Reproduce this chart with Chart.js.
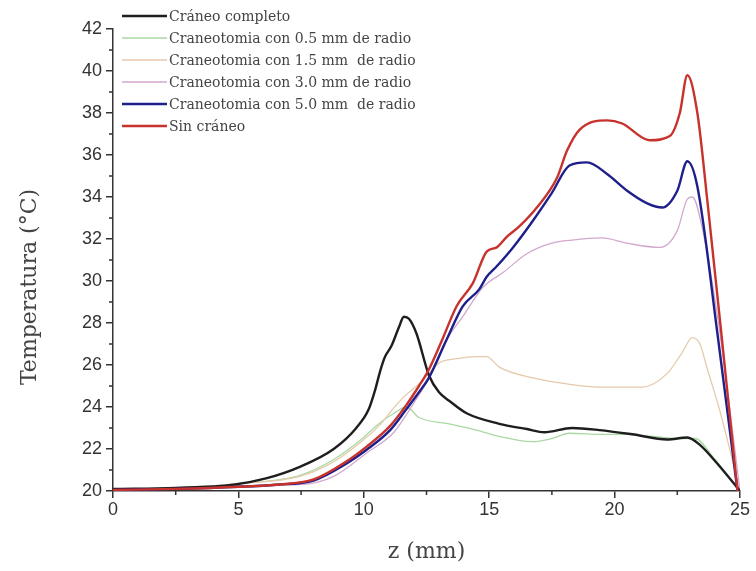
<!DOCTYPE html>
<html>
<head>
<meta charset="utf-8">
<script src="https://cdn.jsdelivr.net/npm/chart.js@4"></script>
<style>
  html, body { margin: 0; padding: 0; background: #fff; }
  canvas { display: block; }
</style>
</head>
<body>
<canvas id="tempChart" width="756" height="571"></canvas>
<script>
// series labels (legend order)
const seriesNames = [
  "Cráneo completo",
  "Craneotomia con 0.5 mm de radio",
  "Craneotomia con 1.5 mm  de radio",
  "Craneotomia con 3.0 mm de radio",
  "Craneotomia con 5.0 mm  de radio",
  "Sin cráneo"
];

// z (mm) / temperatura (°C)
const zCompleto = [0, 2.5, 4.8, 6.1, 7.45, 8.8, 9.7, 10.2, 10.45, 10.65, 10.85, 11.1, 11.4, 11.6, 11.8, 12.1, 12.6, 13.0, 13.4, 14.1, 15.4, 16.5, 17.2, 18.3, 19.4, 20.7, 22.1, 22.9, 23.4, 24.1, 25];
const tCompleto = [20.1, 20.15, 20.3, 20.6, 21.15, 22.0, 23.0, 23.9, 24.8, 25.7, 26.4, 26.9, 27.8, 28.3, 28.2, 27.5, 25.5, 24.7, 24.3, 23.7, 23.2, 22.95, 22.8, 23.0, 22.9, 22.7, 22.45, 22.55, 22.2, 21.3, 20.0];

const zR05 = [0, 2.5, 5, 7.45, 8.8, 9.85, 10.6, 11.2, 11.7, 12.2, 13.4, 14.5, 15.4, 16.7, 17.5, 18.2, 19.5, 20.5, 21.5, 22.5, 23.2, 24, 25];
const tR05 = [20.1, 20.15, 20.35, 20.75, 21.5, 22.4, 23.2, 23.7, 24.0, 23.5, 23.2, 22.9, 22.6, 22.35, 22.5, 22.75, 22.7, 22.7, 22.6, 22.5, 22.5, 21.5, 20.0];

const zR15 = [0, 2.5, 5, 7.45, 8.8, 9.85, 10.6, 11.3, 11.7, 12.2, 12.6, 13.0, 13.7, 14.5, 14.9, 15.4, 16.7, 18.1, 19.4, 21.1, 22.1, 22.7, 23.1, 23.4, 23.7, 24.2, 25];
const tR15 = [20.1, 20.15, 20.35, 20.7, 21.4, 22.3, 23.1, 24.1, 24.6, 25.1, 25.6, 26.1, 26.3, 26.4, 26.4, 25.9, 25.4, 25.1, 24.95, 24.95, 25.6, 26.6, 27.3, 27.0, 25.8, 23.8, 20.0];

const zR30 = [0, 2.5, 5, 7.45, 8.8, 10.1, 11.2, 12, 12.6, 13.2, 14.0, 14.75, 15.55, 16.5, 17.5, 18.3, 19.5, 20.5, 21.8, 22.5, 22.9, 23.1, 23.5, 24.2, 25];
const tR30 = [20.05, 20.1, 20.25, 20.3, 20.7, 21.8, 22.8, 24.2, 25.4, 27.0, 28.4, 29.7, 30.4, 31.3, 31.8, 31.95, 32.05, 31.8, 31.6, 32.4, 33.9, 34.0, 32.5, 27.5, 20.0];

const zR50 = [0, 2.5, 5, 6.5, 8.0, 9.3, 10.1, 11.05, 11.7, 12.2, 12.6, 13.3, 13.95, 14.6, 14.9, 15.3, 15.95, 16.7, 17.5, 18.2, 18.9, 19.7, 20.5, 21.3, 21.9, 22.5, 22.9, 23.3, 24.1, 24.9];
const tR50 = [20.05, 20.1, 20.2, 20.3, 20.5, 21.3, 21.95, 22.9, 23.9, 24.7, 25.4, 27.2, 28.8, 29.6, 30.2, 30.7, 31.6, 32.8, 34.2, 35.5, 35.65, 35.1, 34.3, 33.7, 33.5, 34.3, 35.7, 34.5, 27.5, 20.0];

const zSin = [0, 2.5, 5, 6.5, 8.0, 9.3, 10.1, 11.05, 11.7, 12.2, 12.6, 13.16, 13.7, 14.35, 14.9, 15.3, 15.7, 16.2, 16.9, 17.7, 18.1, 18.6, 19.7, 20.3, 21.4, 22.2, 22.6, 22.9, 23.3, 23.7, 24.3, 24.9];
const tSin = [20.05, 20.1, 20.2, 20.3, 20.55, 21.4, 22.1, 23.1, 24.1, 25.0, 25.8, 27.3, 28.8, 29.9, 31.4, 31.6, 32.1, 32.6, 33.5, 34.9, 36.2, 37.2, 37.65, 37.5, 36.7, 36.9, 38.0, 39.8, 38.0, 33.8, 27.0, 20.0];

const yTicksMinor = [21, 23, 25, 27, 29, 31, 33, 35, 37, 39, 41];
const xTicksMinor = [2.5, 7.5, 12.5, 17.5, 22.5];

const toPoints = (zs, ts) => zs.map((z, i) => ({ x: z, y: ts[i] }));

const serif = "'DejaVu Serif', 'Liberation Serif', serif";
const sans = "'Liberation Sans', Arial, sans-serif";
const axisColor = "#333";

function line(label, data, color, width, order) {
  return {
    label, data,
    borderColor: color,
    backgroundColor: color,
    borderWidth: width,
    pointRadius: 0,
    cubicInterpolationMode: "monotone",
    order
  };
}

// minor ticks, y title and the legend in the top-left corner
const extrasPlugin = {
  id: "extras",
  afterDraw(chart) {
    const { ctx, chartArea, scales } = chart;
    ctx.save();
    ctx.strokeStyle = axisColor;
    ctx.lineWidth = 1.5;
    ctx.beginPath();
    yTicksMinor.forEach(v => {
      const y = scales.y.getPixelForValue(v);
      ctx.moveTo(chartArea.left - 4, y);
      ctx.lineTo(chartArea.left, y);
    });
    xTicksMinor.forEach(v => {
      const x = scales.x.getPixelForValue(v);
      ctx.moveTo(x, chartArea.bottom);
      ctx.lineTo(x, chartArea.bottom + 4);
    });
    ctx.stroke();

    // y axis title
    ctx.translate(30, 287);
    ctx.rotate(-Math.PI / 2);
    ctx.font = "22px " + serif;
    ctx.fillStyle = "#444";
    ctx.textAlign = "center";
    ctx.textBaseline = "middle";
    ctx.fillText("Temperatura (°C)", 0, 0);
    ctx.restore();

    // legend
    ctx.save();
    ctx.font = "14px " + serif;
    ctx.textBaseline = "middle";
    ctx.textAlign = "left";
    chart.data.datasets.forEach((ds, i) => {
      const y = 16 + i * 22;
      ctx.strokeStyle = ds.borderColor;
      ctx.lineWidth = Math.max(ds.borderWidth, 1.5);
      ctx.beginPath();
      ctx.moveTo(122, y);
      ctx.lineTo(167, y);
      ctx.stroke();
      ctx.fillStyle = "#444";
      ctx.fillText(ds.label, 169, y + 1);
    });
    ctx.restore();
  }
};

new Chart(document.getElementById("tempChart"), {
  type: "line",
  data: {
    datasets: [
      line(seriesNames[0], toPoints(zCompleto, tCompleto), "#1e1e1e", 2.4, 3),
      line(seriesNames[1], toPoints(zR05, tR05), "#a9d9a2", 1.3, 6),
      line(seriesNames[2], toPoints(zR15, tR15), "#e6c9ab", 1.3, 5),
      line(seriesNames[3], toPoints(zR30, tR30), "#d2a9cc", 1.3, 4),
      line(seriesNames[4], toPoints(zR50, tR50), "#1f1f8c", 2.4, 2),
      line(seriesNames[5], toPoints(zSin, tSin), "#c8322c", 2.4, 1)
    ]
  },
  options: {
    responsive: false,
    animation: false,
    layout: { padding: { left: 0, right: 16, top: 29, bottom: 0 } },
    plugins: { legend: { display: false }, tooltip: { enabled: false } },
    scales: {
      x: {
        type: "linear",
        min: 0, max: 25,
        afterFit: s => { s.height = 80; },
        border: { display: true, color: axisColor, width: 1.5 },
        grid: { drawOnChartArea: false, drawTicks: true, tickLength: 7, color: axisColor, lineWidth: 1.5 },
        ticks: { stepSize: 5, padding: 1, color: "#333", font: { family: sans, size: 18 } },
        title: { display: true, text: "z (mm)", color: "#444", font: { family: serif, size: 22 }, padding: { top: 0, bottom: 6 } }
      },
      y: {
        min: 20, max: 42,
        afterFit: s => { s.width = 113; },
        border: { display: true, color: axisColor, width: 1.5 },
        grid: { drawOnChartArea: false, drawTicks: true, tickLength: 7, color: axisColor, lineWidth: 1.5 },
        ticks: { stepSize: 2, padding: 4, color: "#333", font: { family: sans, size: 18 } }
      }
    }
  },
  plugins: [extrasPlugin]
});
</script>
</body>
</html>
